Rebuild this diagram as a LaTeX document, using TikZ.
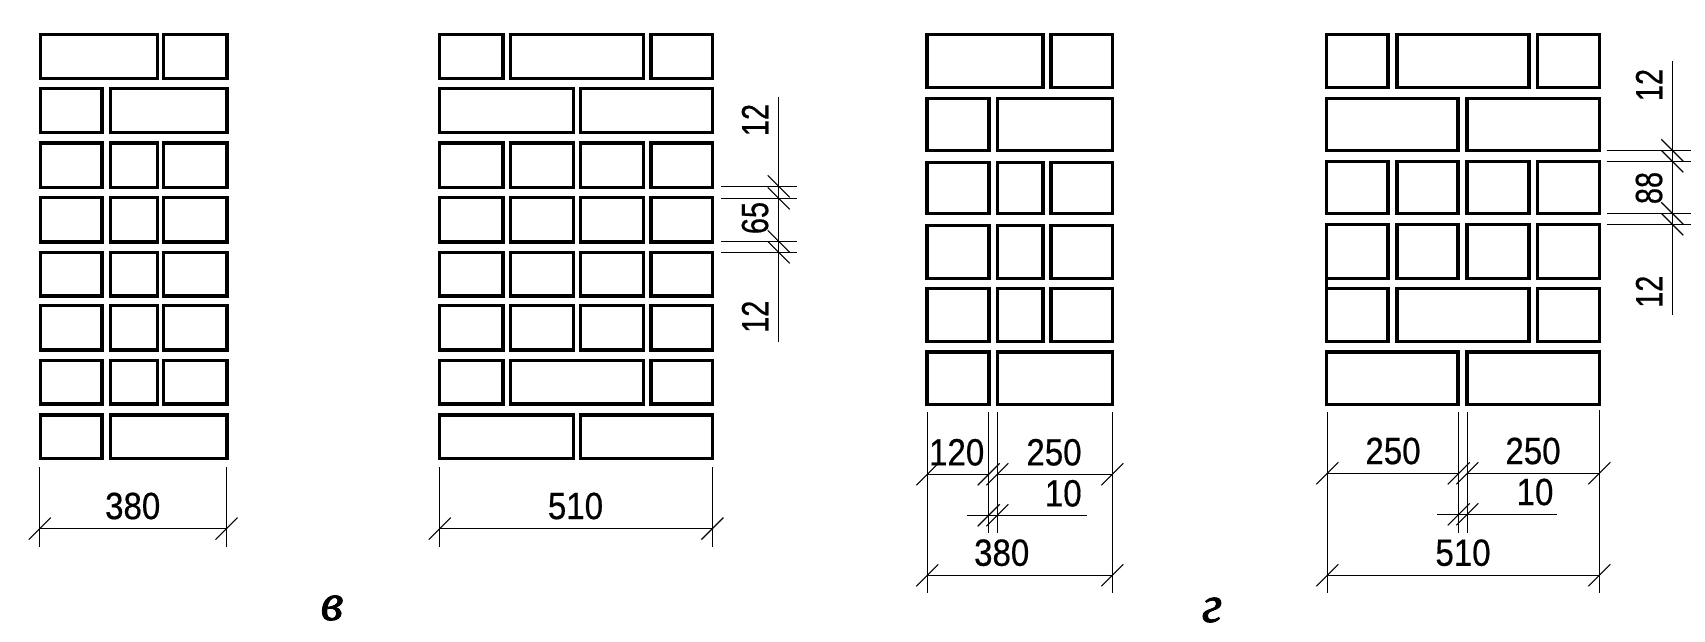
\documentclass[tikz,border=0pt]{standalone}
\usepackage{fontspec}
\setmainfont{Liberation Sans}
\newfontfamily\dimfont[FakeBold=0.5]{Liberation Sans}
\newfontfamily\capfont[ItalicFeatures={FakeBold=1.6}]{Liberation Serif}
\newcommand\brow[3]{\foreach \a/\b in {#3} \draw[brick] (\a,#1) rectangle (\b,#2);}
\newcommand\slashtick[2]{\draw[dimline] ({#1-11},{#2+11}) -- ({#1+11},{#2-11});}
\newcommand\backtick[2]{\draw[dimline] ({#1-11},{#2-11}) -- ({#1+11},{#2+11});}
\tikzset{
  brick/.style={draw=black,line width=3.1pt,miter limit=10},
  dimline/.style={draw=black,line width=1.1pt},
  dimtext/.style={inner sep=0pt,xscale=.87,font=\dimfont\fontsize{38}{38}\selectfont},
  dimtextv/.style={inner sep=0pt,rotate=90,xscale=.76,font=\dimfont\fontsize{38}{38}\selectfont},
  figlabel/.style={inner sep=0pt,font=\capfont\itshape\fontsize{52}{52}\selectfont}
}
\begin{document}
\begin{tikzpicture}[x=1pt,y=-1pt]
\useasboundingbox (0,0) rectangle (1705,641);
\fill[white] (0,0) rectangle (1705,641);
% figure A
\brow{34.8}{78.5}{40.3/157.1,163.8/227}
\brow{88.7}{132.9}{40.3/102,110.2/227}
\brow{143}{187.2}{40.3/102,110.2/157.1,163.8/227}
\brow{197.9}{242}{40.3/102,110.2/157.1,163.8/227}
\brow{252.2}{296}{40.3/102,110.2/157.1,163.8/227}
\brow{305.8}{350}{40.3/102,110.2/157.1,163.8/227}
\brow{360.2}{404}{40.3/102,110.2/157.1,163.8/227}
\brow{415}{458.7}{40.3/102,110.2/227}
\draw[dimline] (39.8,467.3) -- (39.8,546.6) (226.6,467.3) -- (226.6,546.6) (39.8,528.6) -- (226.6,528.6);
\slashtick{39.8}{528.6}\slashtick{226.6}{528.6}
\node[dimtext] (a380) at (132.7,506) {380};
% figure B
\brow{34.8}{78.5}{439.8/503,510.2/643.4,651/712.8}
\brow{88.7}{132.9}{439.8/573.5,580.1/712.8}
\brow{143}{187.2}{439.8/503,510.2/573.5,580.1/643.4,651/712.8}
\brow{197.9}{242}{439.8/503,510.2/573.5,580.1/643.4,651/712.8}
\brow{252.2}{296}{439.8/503,510.2/573.5,580.1/643.4,651/712.8}
\brow{305.8}{350}{439.8/503,510.2/573.5,580.1/643.4,651/712.8}
\brow{360.2}{404}{439.8/503,510.2/643.4,651/712.8}
\brow{415}{458.7}{439.8/573.5,580.1/712.8}
\draw[dimline] (439.8,467.3) -- (439.8,546.6) (712.4,467.3) -- (712.4,546.6) (439.8,528.6) -- (712.4,528.6);
\slashtick{439.8}{528.6}\slashtick{712.4}{528.6}
\node[dimtext] (b510) at (575.5,506) {510};
\draw[dimline] (778.7,96.7) -- (778.7,341.7);
\foreach \y in {186.3,198.3,241.3,252.3} {
  \draw[dimline] (721,\y) -- (797,\y);
  \backtick{778.7}{\y}
}
\node[dimtextv] (b12a) at (755,120) {12};
\node[dimtextv] (b65) at (755,218) {65};
\node[dimtextv] (b12b) at (755,316.7) {12};
\node[figlabel] (labv) at (332,608) {в};
% figure C
\brow{34.8}{87.7}{927/1043,1051/1112.5}
\brow{98.4}{150.8}{927/989,997.5/1112.5}
\brow{162.3}{213.9}{927/989,997.5/1043,1051/1112.5}
\brow{225.4}{278.3}{927/989,997.5/1043,1051/1112.5}
\brow{288.5}{341.4}{927/989,997.5/1043,1051/1112.5}
\brow{352}{404.5}{927/989,997.5/1112.5}
\draw[dimline] (927.3,412.3) -- (927.3,593.3) (1112.3,412.3) -- (1112.3,593.3)
  (988.7,412.3) -- (988.7,533.3) (997.3,412.3) -- (997.3,533.3)
  (927.3,474.3) -- (988.7,474.3) (997.3,474.3) -- (1112.3,474.3)
  (967,515.3) -- (1086.7,515.3)
  (927.3,575.3) -- (1112.3,575.3);
\slashtick{927.3}{474.3}\slashtick{988.7}{474.3}\slashtick{997.3}{474.3}\slashtick{1112.3}{474.3}
\slashtick{988.7}{515.3}\slashtick{997.3}{515.3}
\slashtick{927.3}{575.3}\slashtick{1112.3}{575.3}
\node[dimtext] (c120) at (956.7,452.3) {120};
\node[dimtext] (c250) at (1054,452.3) {250};
\node[dimtext] (c10) at (1063.3,493.3) {10};
\node[dimtext] (c380) at (1001.7,552.7) {380};
% figure D
\brow{34.8}{87.7}{1326.5/1388,1397/1529,1537.5/1599.5}
\brow{98.4}{150.8}{1326.5/1458,1467/1599.5}
\brow{161.3}{213.9}{1326.5/1388,1397/1458,1467/1529,1537.5/1599.5}
\brow{224.6}{278.3}{1326.5/1388,1397/1458,1467/1529,1537.5/1599.5}
\brow{288.5}{341.4}{1326.5/1388,1397/1529,1537.5/1599.5}
\brow{352}{404.5}{1326.5/1458,1467/1599.5}
\draw[brick] (1326.5,278.3) -- (1326.5,288.5);
\draw[dimline] (1327.3,412.3) -- (1327.3,593.3) (1599.3,410) -- (1599.3,593.3)
  (1458.7,412.3) -- (1458.7,533.3) (1467.3,412.3) -- (1467.3,533.3)
  (1327.3,473.3) -- (1458.7,473.3) (1467.3,473.3) -- (1599.3,473.3)
  (1437.3,514.3) -- (1557,514.3)
  (1327.3,575.3) -- (1599.3,575.3);
\slashtick{1327.3}{473.3}\slashtick{1458.7}{473.3}\slashtick{1467.3}{473.3}\slashtick{1599.3}{473.3}
\slashtick{1458.7}{514.3}\slashtick{1467.3}{514.3}
\slashtick{1327.3}{575.3}\slashtick{1599.3}{575.3}
\node[dimtext] (d250a) at (1393,451) {250};
\node[dimtext] (d250b) at (1533,451) {250};
\node[dimtext] (d10) at (1535,492) {10};
\node[dimtext] (d510) at (1463,552.7) {510};
\draw[dimline] (1672.3,61) -- (1672.3,315);
\foreach \y in {150.3,161.3,213.3,224.3} {
  \draw[dimline] (1606.7,\y) -- (1690.7,\y);
  \backtick{1672.3}{\y}
}
\node[dimtextv] (d12a) at (1649,85) {12};
\node[dimtextv] (d88) at (1649,188) {88};
\node[dimtextv] (d12b) at (1649,291.7) {12};
\node[figlabel] (labg) at (1212,610) {г};
\end{tikzpicture}
\end{document}
